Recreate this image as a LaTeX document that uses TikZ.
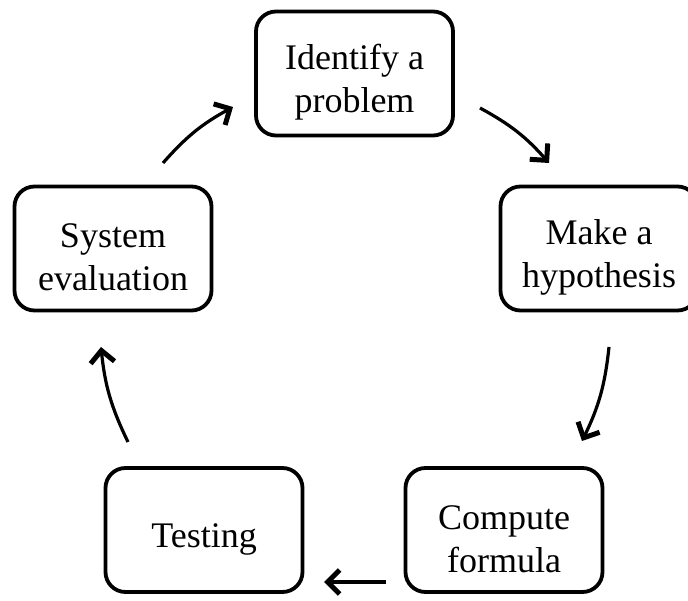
\documentclass[tikz,border=0pt]{standalone}
\usepackage{fontspec}
\setmainfont{Liberation Serif}
\usetikzlibrary{arrows.meta}
\newcommand\topgap{\rule{0pt}{42pt}}
\begin{document}
\begin{tikzpicture}[x=1pt,y=1pt,
  stepbox/.style={draw, line width=3.8pt, rounded corners=20pt, minimum width=197pt, minimum height=124pt,
    align=center, inner sep=0pt, font=\fontsize{36}{43}\selectfont},
  flow/.style={line width=3.2pt, -{Straight Barb[length=12pt,width=24pt,line width=5pt]}, bend left=10}
]
\useasboundingbox (0,0) rectangle (688,-601);
\node[stepbox] (id) at (354.5,-73.5) {\topgap Identify a\\problem};
\node[stepbox] (mk) at (599,-248.5) {\topgap Make a\\hypothesis};
\node[stepbox] (cf) at (504,-530) {\topgap Compute\\formula};
\node[stepbox] (ts) at (204,-530) {\topgap Testing};
\node[stepbox] (se) at (113,-248.5) {\topgap System\\evaluation};
\coordinate (a1s) at (163,-163); \coordinate (a1e) at (233,-107);
\coordinate (a2s) at (480,-108); \coordinate (a2e) at (549,-163);
\coordinate (a3s) at (609,-347); \coordinate (a3e) at (582,-441);
\coordinate (a4s) at (386,-582); \coordinate (a4e) at (324,-582);
\coordinate (a5s) at (128,-442); \coordinate (a5e) at (101,-347);
\draw[flow] (a1s) to (a1e);
\draw[flow] (a2s) to (a2e);
\draw[flow] (a3s) to (a3e);
\draw[flow, bend left=0] (a4s) to (a4e);
\draw[flow] (a5s) to (a5e);
\end{tikzpicture}
\end{document}
